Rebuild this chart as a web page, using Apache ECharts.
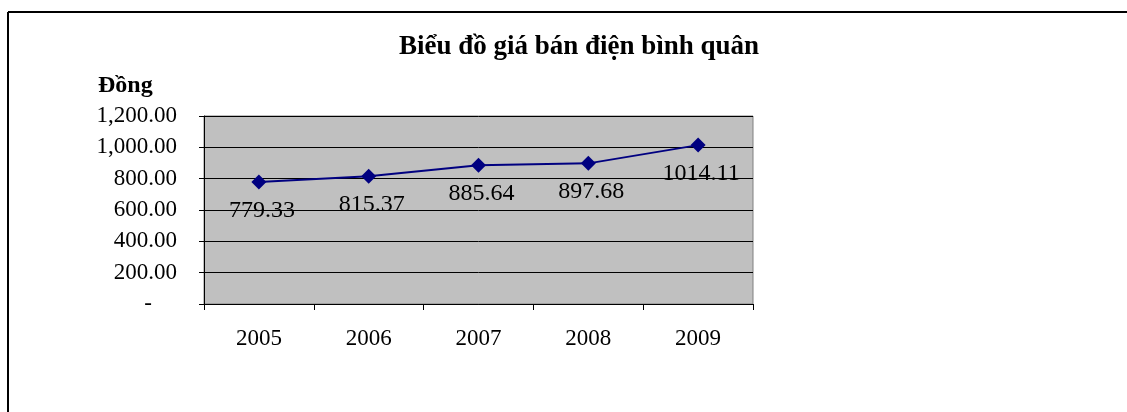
<!DOCTYPE html>
<html>
<head>
<meta charset="utf-8">
<script src="https://cdn.jsdelivr.net/npm/echarts@6/dist/echarts.min.js"></script>
<style>
html,body{margin:0;padding:0;background:#fff;}
#chart{width:1127px;height:412px;}
</style>
</head>
<body>
<div id="chart"></div>
<script>
var titleText = 'Biểu đồ giá bán điện bình quân';
var unitText = 'Đồng';
var categories = ['2005', '2006', '2007', '2008', '2009'];
var values = [779.33, 815.37, 885.64, 897.68, 1014.11];
var labelTexts = ['779.33', '815.37', '885.64', '897.68', '1014.11'];
var yTicks = [0, 200, 400, 600, 800, 1000, 1200];

var FONT = "'Liberation Serif', 'Times New Roman', serif";

function fmtY(v) {
  if (v === 0) return '{d|-}';
  var s = v.toFixed(2);
  var parts = s.split('.');
  parts[0] = parts[0].replace(/\B(?=(\d{3})+(?!\d))/g, ',');
  return parts.join('.');
}

var chart = echarts.init(document.getElementById('chart'), null, {renderer: 'canvas'});
chart.setOption({
  animation: false,
  backgroundColor: '#ffffff',
  title: {
    text: titleText,
    left: 574,
    textAlign: 'center',
    top: 29,
    textStyle: {fontFamily: FONT, fontWeight: 'bold', fontSize: 27, color: '#000'}
  },
  graphic: [
    {type: 'line', shape: {x1: 8, y1: 12, x2: 1127, y2: 12}, style: {stroke: '#000', lineWidth: 2}},
    {type: 'line', shape: {x1: 8, y1: 12, x2: 8, y2: 412}, style: {stroke: '#000', lineWidth: 2}},
    {type: 'text', left: 98, top: 74, style: {text: unitText, font: 'bold 24px ' + FONT, fill: '#000'}}
  ],
  grid: {
    left: 204, right: 374, top: 116, bottom: 108,
    show: true, backgroundColor: '#C0C0C0', borderColor: '#808080', borderWidth: 1
  },
  xAxis: {
    type: 'category',
    data: categories,
    boundaryGap: true,
    axisLine: {show: true, lineStyle: {color: '#000', width: 1}},
    axisTick: {show: true, alignWithLabel: false, interval: 0, length: 6, inside: false, lineStyle: {color: '#000'}},
    axisLabel: {fontFamily: FONT, fontSize: 23, color: '#000', margin: 23}
  },
  yAxis: {
    type: 'value',
    min: yTicks[0],
    max: yTicks[yTicks.length - 1],
    interval: yTicks[1] - yTicks[0],
    axisLine: {show: true, lineStyle: {color: '#000', width: 1}},
    axisTick: {show: true, length: 5, inside: false, lineStyle: {color: '#000'}},
    splitLine: {show: true, lineStyle: {color: '#000', width: 1}},
    axisLabel: {
      fontFamily: FONT, fontSize: 23, color: '#000', margin: 27,
      formatter: fmtY,
      rich: {d: {fontFamily: FONT, fontSize: 23, color: '#000', padding: [0, 25, 0, 0]}}
    }
  },
  series: [{
    type: 'line',
    data: values,
    symbol: 'diamond',
    symbolSize: 15,
    lineStyle: {color: '#000080', width: 2},
    itemStyle: {color: '#000080'},
    label: {
      show: true,
      position: 'bottom',
      distance: 9,
      offset: [3, 0],
      fontFamily: FONT,
      fontSize: 24,
      color: '#000',
      formatter: function (p) { return labelTexts[p.dataIndex]; }
    }
  }]
});
</script>
</body>
</html>
